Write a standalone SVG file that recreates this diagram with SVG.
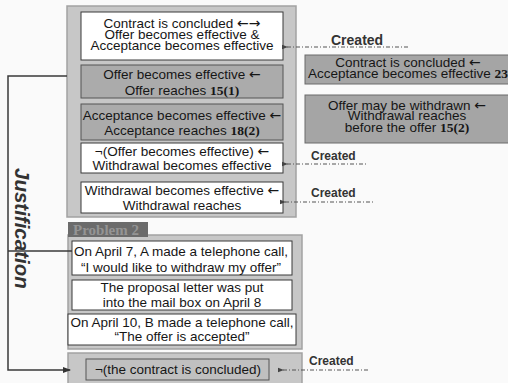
<svg xmlns="http://www.w3.org/2000/svg" width="508" height="383" viewBox="0 0 508 383">
<style>
.t{font-family:"Liberation Sans",Arial,sans-serif;font-size:13.5px;fill:#161616;text-anchor:middle}
.n{font-family:"Liberation Serif","Times New Roman",serif;font-weight:bold}
.a{font-family:"DejaVu Sans",sans-serif;font-size:14px}
.panel{fill:#c7c7c7;stroke:#a2a2a2;stroke-width:1.5}
.wb{fill:#ffffff;stroke:#3a3a3a;stroke-width:1}
.gb{fill:#ababab;stroke:#555;stroke-width:1}
.rb{fill:#a5a5a5;stroke:#6a6a6a;stroke-width:1}
.cr{font-family:"Liberation Sans",Arial,sans-serif;font-weight:bold;fill:#333}
.dl{stroke:#555;stroke-width:1;stroke-dasharray:4 2 1 2;fill:none}
.br{stroke:#3a3a3a;stroke-width:1.5;fill:none}
</style>
<defs>
<marker id="ah" markerWidth="6" markerHeight="6" refX="1" refY="3" orient="auto-start-reverse" markerUnits="userSpaceOnUse">
<path d="M0,3 L6,0.8 L6,5.2 Z" fill="#444"/>
</marker>
<marker id="ah2" markerWidth="8" markerHeight="8" refX="7" refY="4" orient="auto" markerUnits="userSpaceOnUse">
<path d="M0,1 L8,4 L0,7 Z" fill="#333"/>
</marker>
</defs>
<rect x="0" y="0" width="508" height="383" fill="#fafafa"/>

<g id="panel-top">
<rect class="panel" x="67" y="6" width="229" height="211"/>
</g>
<g id="node-contract">
<rect class="wb" x="81" y="12" width="202" height="48"/>
<text class="t" x="182" y="28">Contract is concluded <tspan class="a">←→</tspan></text>
<text class="t" x="182" y="39">Offer becomes effective &amp;</text>
<text class="t" x="182" y="50">Acceptance becomes effective</text>
</g>
<g id="node-offer">
<rect class="gb" x="81" y="65" width="202" height="33"/>
<text class="t" x="182" y="79">Offer becomes effective <tspan class="a">←</tspan></text>
<text class="t" x="182" y="95">Offer reaches <tspan class="n">15(1)</tspan></text>
</g>
<g id="node-acceptance">
<rect class="gb" x="81" y="104" width="202" height="36"/>
<text class="t" x="182" y="120">Acceptance becomes effective <tspan class="a">←</tspan></text>
<text class="t" x="182" y="135">Acceptance reaches <tspan class="n">18(2)</tspan></text>
</g>
<g id="node-not-offer">
<rect class="wb" x="81" y="143" width="202" height="30"/>
<text class="t" x="182" y="156">¬(Offer becomes effective) <tspan class="a">←</tspan></text>
<text class="t" x="182" y="170">Withdrawal becomes effective</text>
</g>
<g id="node-withdrawal">
<rect class="wb" x="81" y="182" width="202" height="31"/>
<text class="t" x="182" y="195">Withdrawal becomes effective <tspan class="a">←</tspan></text>
<text class="t" x="182" y="210">Withdrawal reaches</text>
</g>

<g id="node-rule-23">
<rect class="rb" x="305" y="55" width="210" height="29"/>
<text class="t" x="408" y="67">Contract is concluded <tspan class="a">←</tspan></text>
<text class="t" x="408" y="78">Acceptance becomes effective <tspan class="n">23</tspan></text>
</g>
<g id="node-rule-15-2">
<rect class="rb" x="305" y="95" width="210" height="48"/>
<text class="t" x="407" y="110">Offer may be withdrawn <tspan class="a">←</tspan></text>
<text class="t" x="407" y="120">Withdrawal reaches</text>
<text class="t" x="407" y="132">before the offer <tspan class="n">15(2)</tspan></text>
</g>

<g id="panel-problem">
<rect class="panel" x="68" y="235" width="234" height="114"/>
<rect x="68" y="222" width="80" height="15" fill="#6b6b6b"/>
<text x="73" y="235" font-family="'Liberation Serif','Times New Roman',serif" font-weight="bold" font-size="15" fill="#949494">Problem 2</text>
</g>
<g id="node-april7">
<rect class="wb" x="72" y="241" width="220" height="34"/>
<text class="t" x="181" y="256">On April 7, A made a telephone call,</text>
<text class="t" x="181" y="272">“I would like to withdraw my offer”</text>
</g>
<g id="node-april8">
<rect class="wb" x="72" y="280" width="220" height="30"/>
<text class="t" x="182" y="292">The proposal letter was put</text>
<text class="t" x="182" y="307">into the mail box on April 8</text>
</g>
<g id="node-april10">
<rect class="wb" x="68" y="314" width="228" height="31"/>
<text class="t" x="182" y="327">On April 10, B made a telephone call,</text>
<text class="t" x="182" y="341">“The offer is accepted”</text>
</g>

<g id="node-conclusion">
<rect class="panel" x="68" y="353" width="234" height="34"/>
<rect x="86" y="359" width="183" height="21" fill="#c0c0c0" stroke="#555" stroke-width="1"/>
<text class="t" x="178" y="374">¬(the contract is concluded)</text>
</g>

<g id="label-justification">
<text transform="translate(15,168) rotate(90)" font-family="'Liberation Sans',Arial,sans-serif" font-weight="bold" font-style="italic" font-size="20.5" fill="#333">Justification</text>
</g>

<g id="connectors">
<path class="br" d="M67,76 H8 V370 H70" marker-end="url(#ah2)"/>
<path class="br" d="M8,251 H72"/>
<line class="dl" x1="287" y1="47" x2="410" y2="47" marker-start="url(#ah)"/>
<line class="dl" x1="287" y1="164" x2="368" y2="164" marker-start="url(#ah)"/>
<line class="dl" x1="285" y1="202" x2="373" y2="202" marker-start="url(#ah)"/>
<line class="dl" x1="283" y1="370" x2="370" y2="370" marker-start="url(#ah)"/>
<text class="cr" x="331" y="45" font-size="14">Created</text>
<text class="cr" x="311" y="160" font-size="12">Created</text>
<text class="cr" x="311" y="197" font-size="12">Created</text>
<text class="cr" x="309" y="365" font-size="12">Created</text>
</g>
</svg>
